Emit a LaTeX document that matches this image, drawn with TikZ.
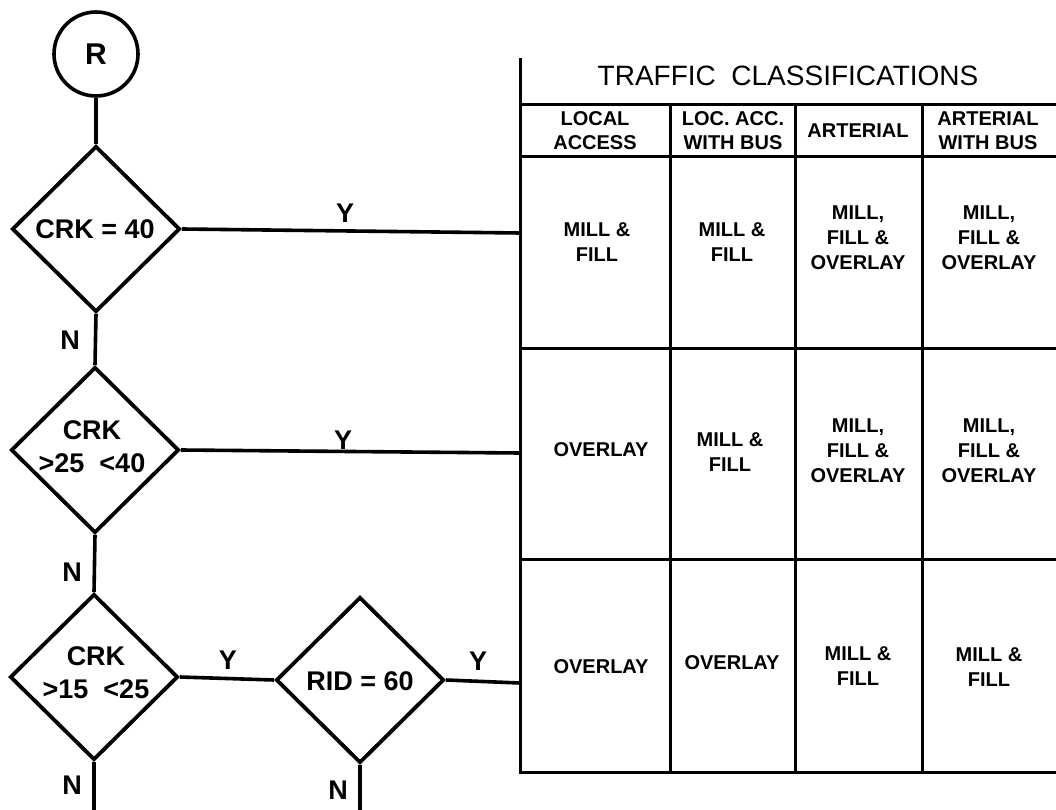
\documentclass[tikz,border=0pt]{standalone}
\usepackage{fontspec}
\setmainfont{Liberation Sans}
\usetikzlibrary{shapes.geometric}
\begin{document}
\begin{tikzpicture}[x=1pt,y=-1pt,
  flow/.style={line width=3.6pt},
  dec/.style={diamond, draw, line width=3.8pt, inner sep=0pt, minimum width=168pt, minimum height=166pt},
  dtext/.style={font=\bfseries\fontsize{27}{33}\selectfont, align=center, inner sep=0pt},
  lbl/.style={font=\bfseries\fontsize{27}{30}\selectfont, inner sep=0pt},
  grid/.style={line width=3pt, line cap=rect},
  cell/.style={font=\bfseries\fontsize{20}{25}\selectfont, align=center, inner sep=0pt},
  head/.style={font=\bfseries\fontsize{20}{24}\selectfont, align=center, inner sep=0pt},
  title/.style={font=\fontsize{28}{30}\selectfont, inner sep=0pt}
]
\useasboundingbox (0,0) rectangle (1056,810);

% flowchart
\node[circle, draw, line width=3.6pt, minimum size=84pt, inner sep=0pt, font=\bfseries\fontsize{30}{32}\selectfont] (R) at (96,54) {R};
\node[dec] (d1) at (96,229) {};
\node[dtext] (d1t) at (95,229) {CRK = 40};
\node[dec] (d2) at (95,450) {};
\node[dtext] (d2t) at (92,447) {CRK\\>25~~<40};
\node[dec] (d3) at (94,677) {};
\node[dtext] (d3t) at (96,673) {CRK\\>15~~<25};
\node[dec] (d4) at (360,680) {};
\node[dtext] (d4t) at (360,681) {RID = 60};

\coordinate (t1) at (520,233);
\coordinate (t2) at (520,453);
\coordinate (t3) at (520,683);
\coordinate (e3) at (94,812);
\coordinate (e4) at (360,812);

\draw[flow] (R.south) -- (d1.north);
\draw[flow] (d1.south) -- (d2.north);
\draw[flow] (d2.south) -- (d3.north);
\draw[flow] (d3.south) -- (e3);
\draw[flow] (d4.south) -- (e4);
\draw[flow] (d1.east) -- (t1);
\draw[flow] (d2.east) -- (t2);
\draw[flow] (d3.east) -- (d4.west);
\draw[flow] (d4.east) -- (t3);

\node[lbl] (y1) at (345,213) {Y};
\node[lbl] (y2) at (343,440) {Y};
\node[lbl] (y3) at (228,660) {Y};
\node[lbl] (y4) at (478,661) {Y};
\node[lbl] (n1) at (70,340) {N};
\node[lbl] (n2) at (72,572) {N};
\node[lbl] (n3) at (72,785) {N};
\node[lbl] (n4) at (338,790) {N};

% table
\draw[grid] (520,60) -- (520,772) -- (1060,772);
\foreach \yy in {105,157,348,559} \draw[grid] (520,\yy) -- (1060,\yy);
\foreach \xx in {670,795,922} \draw[grid] (\xx,105) -- (\xx,772);

\node[title] (tt) at (788,76) {TRAFFIC\ \ CLASSIFICATIONS};
\node[head] (h1) at (595,131) {LOCAL\\ACCESS};
\node[head] (h2) at (733,131) {LOC. ACC.\\WITH BUS};
\node[head] (h3) at (858,131) {ARTERIAL};
\node[head] (h4) at (988,131) {ARTERIAL\\WITH BUS};

\node[cell] (c11) at (597,242) {MILL \&\\FILL};
\node[cell] (c12) at (732,242) {MILL \&\\FILL};
\node[cell] (c13) at (858,238) {MILL,\\FILL \&\\OVERLAY};
\node[cell] (c14) at (989,238) {MILL,\\FILL \&\\OVERLAY};

\node[cell] (c21) at (601,450) {OVERLAY};
\node[cell] (c22) at (730,452) {MILL \&\\FILL};
\node[cell] (c23) at (858,451) {MILL,\\FILL \&\\OVERLAY};
\node[cell] (c24) at (989,451) {MILL,\\FILL \&\\OVERLAY};

\node[cell] (c31) at (601,667) {OVERLAY};
\node[cell] (c32) at (732,663) {OVERLAY};
\node[cell] (c33) at (858,666) {MILL \&\\FILL};
\node[cell] (c34) at (989,667) {MILL \&\\FILL};
\end{tikzpicture}
\end{document}
